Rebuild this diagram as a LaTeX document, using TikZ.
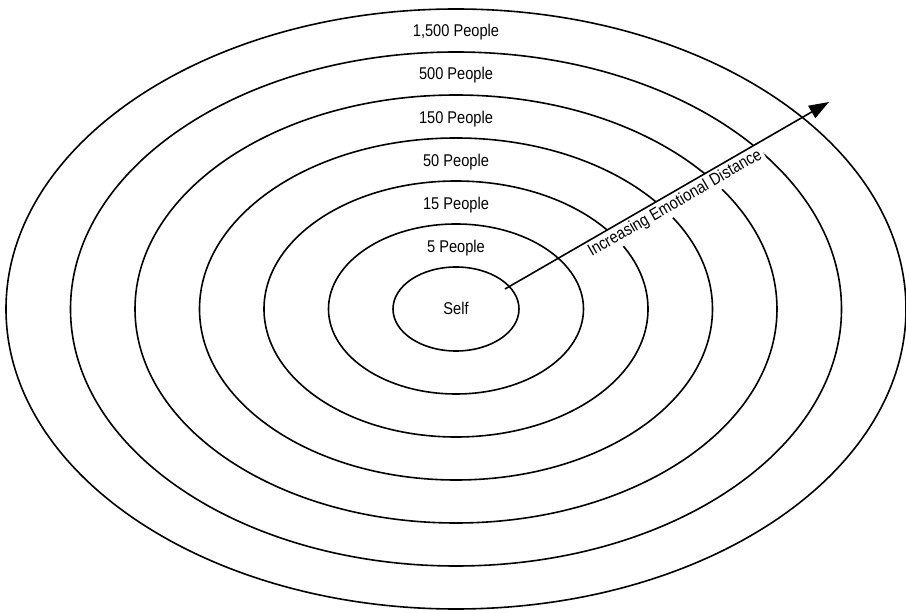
\documentclass[tikz,border=0pt]{standalone}
\usepackage{fontspec}
\setmainfont{Liberation Sans}[FakeStretch=0.86]
\usetikzlibrary{arrows.meta}
\tikzset{
	ring/.style={line width=1.6pt},
	ringlabel/.style={anchor=base,font=\fontsize{17}{20}\selectfont},
	distlabel/.style={sloped,below=0pt,fill=white,inner xsep=3pt,inner ysep=3pt,font=\fontsize{17}{20}\selectfont},
	distarrow/.style={line width=1.6pt,-{Triangle[length=20pt,width=14pt]}}
}
\begin{document}
\begin{tikzpicture}[x=1pt,y=-1pt]
			\useasboundingbox (0,0) rectangle (906,612);
			\draw[ring] (456,309) ellipse [x radius=63pt, y radius=42pt];
			\draw[ring] (456,309) ellipse [x radius=127.5pt, y radius=85pt];
			\draw[ring] (456,309) ellipse [x radius=192pt, y radius=128pt];
			\draw[ring] (456,309) ellipse [x radius=256.5pt, y radius=171pt];
			\draw[ring] (456,309) ellipse [x radius=321pt, y radius=214pt];
			\draw[ring] (456,309) ellipse [x radius=385.5pt, y radius=257pt];
			\draw[ring] (456,309) ellipse [x radius=450pt, y radius=300pt];
			\node[ringlabel] (self) at (456,315) {Self};
			\node[ringlabel] (five) at (456,253) {5 People};
			\node[ringlabel] (fifteen) at (456,209.7) {15 People};
			\node[ringlabel] (fifty) at (456,166.4) {50 People};
			\node[ringlabel] (onefifty) at (456,123.1) {150 People};
			\node[ringlabel] (fivehundred) at (456,79.8) {500 People};
			\node[ringlabel] (fifteenhundred) at (456,36.5) {1,500 People};
			% arrow out of the self ring
			\coordinate (from) at (505,289);
			\coordinate (to) at (829,102);
			\path (from) -- (to) node[distlabel,pos=0.508] (distance) {Increasing Emotional Distance};
			\draw[distarrow] (from) -- (to);
		\end{tikzpicture}
\end{document}
